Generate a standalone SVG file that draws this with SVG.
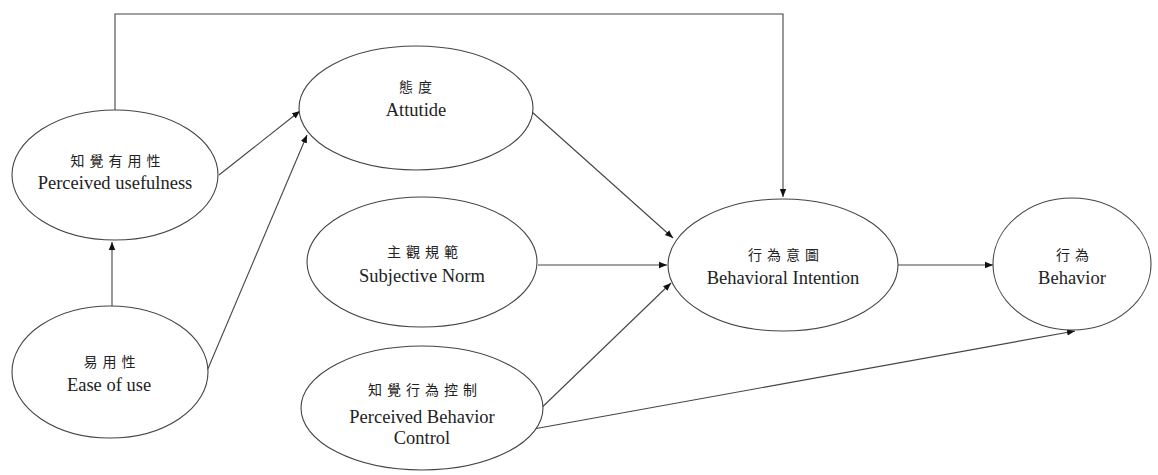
<svg xmlns="http://www.w3.org/2000/svg" width="1158" height="475" viewBox="0 0 1158 475">
<style>
.n{fill:#fff;stroke:#444;stroke-width:1.1}
.c{fill:none;stroke:#444;stroke-width:1.1}
.e{font-family:'Liberation Serif','DejaVu Serif',serif;font-size:18.5px;fill:#222;text-anchor:middle}
.z{font-family:'Liberation Serif','Noto Sans CJK TC',serif;font-size:14px;fill:#222;text-anchor:middle;letter-spacing:5px}
</style>
<defs>
<marker id="ah" viewBox="0 0 10 10" refX="10" refY="5" markerWidth="8" markerHeight="8" markerUnits="userSpaceOnUse" orient="auto">
<path d="M0,1 L10,5 L0,9 z" fill="#111"/>
</marker>
</defs>
<g id="connectors">
<path class="c" d="M115,110 V14 H783 V197" marker-end="url(#ah)"/>
<path class="c" d="M112,306 V242" marker-end="url(#ah)"/>
<path class="c" d="M219,175 L300,111" marker-end="url(#ah)"/>
<path class="c" d="M207,371 L307,135" marker-end="url(#ah)"/>
<path class="c" d="M532,112 L673,238" marker-end="url(#ah)"/>
<path class="c" d="M538,265 L667,265" marker-end="url(#ah)"/>
<path class="c" d="M532,417 L671,283" marker-end="url(#ah)"/>
<path class="c" d="M528,430 L1075,331" marker-end="url(#ah)"/>
<path class="c" d="M898,265 L993,265" marker-end="url(#ah)"/>
</g>
<g id="pu">
<ellipse class="n" cx="115" cy="175" rx="103" ry="65"/>
<text class="z" x="118" y="166">知覺有用性</text>
<text class="e" x="115" y="189">Perceived usefulness</text>
</g>
<g id="eou">
<ellipse class="n" cx="110" cy="372" rx="98" ry="66"/>
<text class="z" x="112" y="367">易用性</text>
<text class="e" x="109" y="391">Ease of use</text>
</g>
<g id="attitude">
<ellipse class="n" cx="416" cy="108" rx="117" ry="62"/>
<text class="z" x="418" y="92">態度</text>
<text class="e" x="416" y="116">Attutide</text>
</g>
<g id="sn">
<ellipse class="n" cx="422" cy="262" rx="115" ry="65"/>
<text class="z" x="425" y="257">主觀規範</text>
<text class="e" x="422" y="282">Subjective Norm</text>
</g>
<g id="pbc">
<ellipse class="n" cx="422" cy="408" rx="121" ry="62"/>
<text class="z" x="425" y="395">知覺行為控制</text>
<text class="e" x="422" y="423">Perceived Behavior</text>
<text class="e" x="422" y="444">Control</text>
</g>
<g id="bi">
<ellipse class="n" cx="783" cy="265" rx="115" ry="66"/>
<text class="z" x="786" y="260">行為意圖</text>
<text class="e" x="783" y="284">Behavioral Intention</text>
</g>
<g id="behavior">
<ellipse class="n" cx="1072" cy="264" rx="79" ry="66"/>
<text class="z" x="1075" y="260">行為</text>
<text class="e" x="1072" y="284">Behavior</text>
</g>
</svg>
